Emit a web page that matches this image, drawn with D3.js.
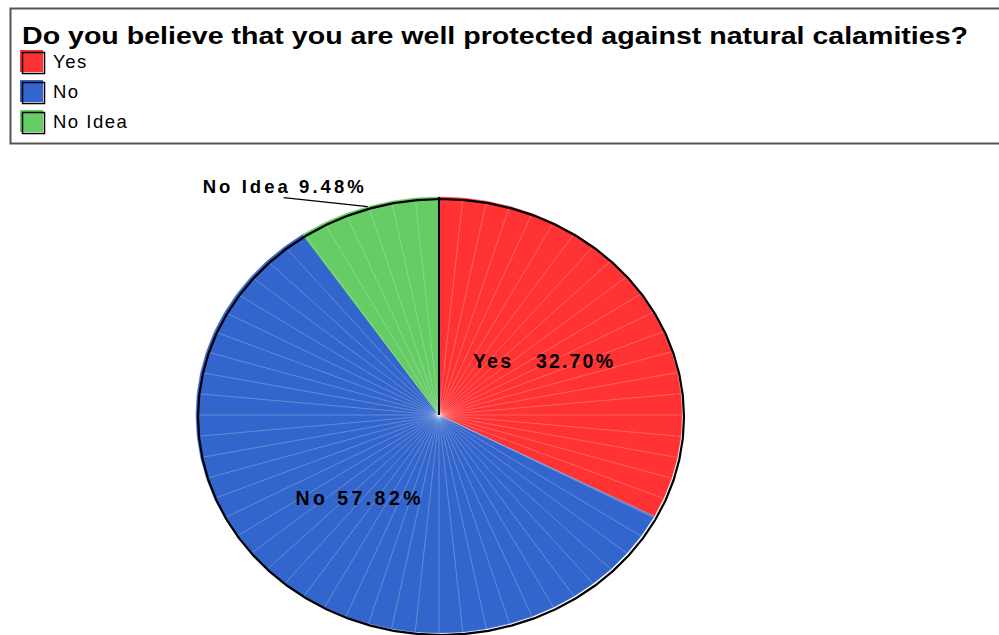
<!DOCTYPE html>
<html>
<head>
<meta charset="utf-8">
<script src="https://cdn.jsdelivr.net/npm/d3@7/dist/d3.min.js"></script>
<style>
  html, body { margin: 0; padding: 0; background: #fff; }
  svg { display: block; }
  text { font-family: "Liberation Sans", Arial, sans-serif; }
</style>
</head>
<body>
<svg id="chart" width="999" height="635"></svg>
<script>
// ---- data ----
const title = "Do you believe that you are well protected against natural calamities?";
const categories = ["Yes", "No", "No Idea"];
const values = [32.70, 57.82, 9.48];
const colors = ["#FF3333", "#3366CC", "#66CC66"];
const sliceLabels = ["Yes   32.70%", "No 57.82%", "No Idea 9.48%"];

const svg = d3.select("#chart");

// ---- title / legend box ----
svg.append("rect")
  .attr("x", 10.5).attr("y", 8.5).attr("width", 1010).attr("height", 135)
  .attr("fill", "none").attr("stroke", "#555").attr("stroke-width", 2);

svg.append("text")
  .attr("x", 22).attr("y", 44)
  .attr("font-size", 23.5).attr("font-weight", "bold")
  .attr("textLength", 946).attr("lengthAdjust", "spacingAndGlyphs")
  .text(title);

const legendY = d3.scaleBand().domain(categories).range([50, 140]);
const leg = svg.append("g").selectAll("g").data(categories).join("g")
  .attr("transform", d => `translate(20,${legendY(d)})`);
leg.append("rect").attr("x", 0).attr("y", 0).attr("width", 23).attr("height", 22)
  .attr("fill", (d, i) => colors[i]);
leg.append("rect").attr("x", 2.5).attr("y", 2.5).attr("width", 22).attr("height", 21)
  .attr("fill", "none").attr("stroke", "#000").attr("stroke-width", 1.5);
leg.append("text").attr("x", 33).attr("y", 18)
  .attr("font-size", 18.5).attr("letter-spacing", 1.5)
  .text(d => d);

// ---- pie (elliptical, polygonal) ----
const cx = 439, cy = 415, rx = 243, ry = 218;
const pie = d3.pie().sort(null).value(d => d).startAngle(0).endAngle(2 * Math.PI);
const arcs = pie(values);
const step = 2 * Math.PI / 64;
const sx = d3.scaleLinear().domain([-1, 1]).range([cx - rx, cx + rx]);
const sy = d3.scaleLinear().domain([-1, 1]).range([cy - ry, cy + ry]);
const pt = (a, f = 1) => [sx(f * Math.sin(a)), sy(-f * Math.cos(a))];

function verts(a0, a1) {
  const v = [a0];
  let k = Math.floor(a0 / step + 1e-9) + 1;
  while (k * step < a1 - 1e-9) { v.push(k * step); k++; }
  v.push(a1);
  return v;
}

const line = d3.line();
const gPie = svg.append("g");
arcs.forEach((a, i) => {
  const vs = verts(a.startAngle, a.endAngle);
  const pts = [[cx, cy], ...vs.map(v => pt(v))];
  gPie.append("path").attr("d", line(pts) + "Z")
    .attr("fill", colors[i]).attr("stroke", colors[i]).attr("stroke-width", 0.6);
  // radial highlight lines
  vs.slice(1, -1).forEach(v => {
    gPie.append("path").attr("d", line([[cx, cy], pt(v)]))
      .attr("stroke", "#fff").attr("stroke-opacity", 0.3).attr("stroke-width", 0.8)
      .attr("fill", "none");
  });
});

// outer outline (offset, like a shadow)
const allV = verts(0, 2 * Math.PI);
gPie.append("path").attr("d", line(allV.map(v => pt(v))) + "Z")
  .attr("transform", "translate(2,2)")
  .attr("fill", "none").attr("stroke", "#000").attr("stroke-width", 2.2);
// white edge on boundary Yes/No
gPie.append("path").attr("d", line([[cx, cy], pt(arcs[1].startAngle)]))
  .attr("stroke", "#fff").attr("stroke-opacity", 0.4).attr("stroke-width", 1);
// black start edge at top
gPie.append("path").attr("d", line([[cx, cy], pt(0)]))
  .attr("stroke", "#000").attr("stroke-width", 2);

// ---- slice labels ----
const labW = [140, 125, 161];
[0, 1].forEach(i => {
  const a = (arcs[i].startAngle + arcs[i].endAngle) / 2;
  const p = pt(a, 0.5);
  svg.append("text")
    .attr("x", p[0]).attr("y", p[1] + 9)
    .attr("text-anchor", "middle")
    .attr("font-size", 19.5).attr("font-weight", "bold")
    .attr("xml:space", "preserve").style("white-space", "pre")
    .attr("textLength", labW[i]).attr("lengthAdjust", "spacing")
    .text(sliceLabels[i]);
});
// outside label for the small slice, with leader line
{
  const i = 2;
  const a = (arcs[i].startAngle + arcs[i].endAngle) / 2;
  const p = pt(a, 1);
  const q = [p[0] - 84, p[1] - 9];
  svg.append("path").attr("d", line([q, p]))
    .attr("stroke", "#000").attr("stroke-width", 1.3).attr("fill", "none");
  svg.append("text")
    .attr("x", q[0] + 80).attr("y", q[1] - 5)
    .attr("text-anchor", "end")
    .attr("font-size", 18.5).attr("font-weight", "bold")
    .attr("textLength", labW[i]).attr("lengthAdjust", "spacing")
    .text(sliceLabels[i]);
}
</script>
</body>
</html>
